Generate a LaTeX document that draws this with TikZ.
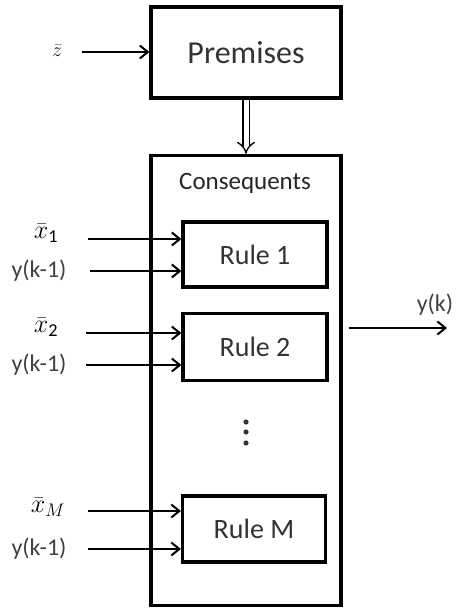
\RequirePackage{fix-cm}
\documentclass[tikz,border=0pt]{standalone}
\usepackage{fontspec}
\setmainfont{Carlito}
\usetikzlibrary{arrows.meta}
\begin{document}
\begin{tikzpicture}[x=1pt,y=-1pt,
  box/.style={draw,line width=3.2pt,inner sep=0pt},
  conn/.style={line width=2.4pt,-{Straight Barb[length=8pt,width=13pt,line width=2pt]}},
  lbl/.style={font=\fontsize{24}{26}\selectfont,text=black!75,inner sep=0pt},
  mlbl/.style={font=\fontsize{26}{28}\selectfont,text=black,inner sep=0pt},
  rulelbl/.style={font=\fontsize{28}{30}\selectfont,text=black!80}]
\useasboundingbox (0,0) rectangle (455,609);
% premises block
\node[box,minimum width=190pt,minimum height=91pt] (prem) at (246,52.5) {};
\node[font=\fontsize{32}{34}\selectfont,text=black!80] at (prem) {Premises};
% consequents block
\node[box,minimum width=190pt,minimum height=450pt] (cons) at (246,380.5) {};
\node[font=\fontsize{25}{27}\selectfont,text=black!85] (constitle) at (245,183) {Consequents};
% rule blocks
\node[box,minimum width=144pt,minimum height=65pt] (r1) at (255,254.5) {};
\node[rulelbl] at (r1) {Rule 1};
\node[box,minimum width=144pt,minimum height=67pt] (r2) at (255,347) {};
\node[rulelbl] at (r2) {Rule 2};
\node[box,minimum width=143pt,minimum height=66pt] (rm) at (254,529) {};
\node[rulelbl] at (rm) {Rule M};
% vertical ellipsis
\foreach \yy/\nm in {422/d1,432/d2,443/d3}
  \fill[black!80] (246,\yy) circle (2.6pt) coordinate (\nm);
% premises to consequents
\draw[line width=1.3pt,double=white,double distance=5pt,-{Implies}] (prem.south) -- (cons.north);
% input to premises
\node[font=\fontsize{20}{22}\selectfont,text=black!90,inner sep=0pt] (z) at (57,51) {$\bar{z}$};
\coordinate (zs) at (82,52);
\draw[conn] (zs) -- (zs -| prem.west);
% inputs to the rules
\node[mlbl] (x1) at (46,233) {$\bar{x}_{\mathrm{1}}$};
\node[lbl] (y1) at (39,271) {y(k-1)};
\coordinate (x1s) at (88,239);
\coordinate (y1s) at (90,271);
\draw[conn] (x1s) -- (x1s -| r1.west);
\draw[conn] (y1s) -- (y1s -| r1.west);
\node[mlbl] (x2) at (46,327) {$\bar{x}_{\mathrm{2}}$};
\node[lbl] (y2) at (39,365) {y(k-1)};
\coordinate (x2s) at (86,333);
\coordinate (y2s) at (86,365);
\draw[conn] (x2s) -- (x2s -| r2.west);
\draw[conn] (y2s) -- (y2s -| r2.west);
\node[mlbl] (xm) at (48,507) {$\bar{x}_{M}$};
\node[lbl] (ym) at (39,549) {y(k-1)};
\coordinate (xms) at (88,511);
\coordinate (yms) at (88,549);
\draw[conn] (xms) -- (xms -| rm.west);
\draw[conn] (yms) -- (yms -| rm.west);
% output
\coordinate (out) at (447,328);
\draw[conn] (cons.east |- out) ++(6,0) -- (out);
\node[lbl] (yk) at (435,305) {y(k)};
\end{tikzpicture}
\end{document}
